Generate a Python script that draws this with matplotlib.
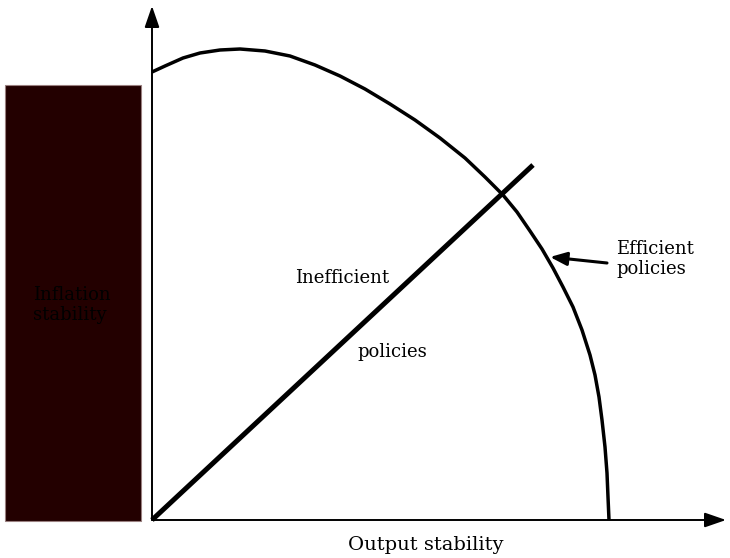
import matplotlib.pyplot as plt
from matplotlib.patches import Rectangle

# frontier (pixel positions in the original)
frontier_px = [152, 165, 183, 200, 220, 240, 265, 290, 315, 340, 365, 390, 415, 440,
               465, 485, 503, 517, 530, 542, 553, 563, 573, 582, 590, 595, 599, 602,
               605, 607, 608, 609]
frontier_py = [72, 66, 58, 53, 50, 49, 51, 56, 65, 76, 89, 104, 120, 138,
               158, 177, 195, 212, 231, 249, 268, 287, 307, 330, 355, 375, 397, 420,
               447, 473, 497, 520]

# ray of inefficient policies
ray_px = [152, 533]
ray_py = [520, 165]

x_label = "Output stability"
y_label = "Inflation\nstability"

W, H = 730, 558
ox, oy = 152, 520
frontier_x = [p - ox for p in frontier_px]
frontier_y = [oy - p for p in frontier_py]
ray_x = [p - ox for p in ray_px]
ray_y = [oy - p for p in ray_py]

fig = plt.figure(figsize=(W / 100, H / 100), dpi=100)
fig.patch.set_facecolor("white")

ax = fig.add_axes([ox / W, (H - oy) / H, (726 - ox) / W, (oy - 6) / H])
ax.set_xlim(0, 726 - ox)
ax.set_ylim(0, oy - 6)
ax.axis("off")

# axes with arrows
arr = dict(arrowstyle="-|>,head_length=1.3,head_width=0.45", color="black", lw=1.4,
           shrinkA=0, shrinkB=0)
ax.annotate("", xy=(0, 1), xytext=(0, 0), xycoords="axes fraction", arrowprops=arr)
ax.annotate("", xy=(1, 0), xytext=(0, 0), xycoords="axes fraction", arrowprops=arr)

ax.plot(frontier_x, frontier_y, color="black", lw=2.5, solid_capstyle="butt",
        solid_joinstyle="round", clip_on=False)
ax.plot(ray_x, ray_y, color="black", lw=3.6, solid_capstyle="butt", clip_on=False)

font = "DejaVu Serif"
fs = 13
ax.text(342 - ox, oy - 278, "Inefficient", ha="center", va="center", fontsize=fs, family=font)
ax.text(392 - ox, oy - 352, "policies", ha="center", va="center", fontsize=fs, family=font)
ax.text(616 - ox, oy - 259, "Efficient\npolicies", ha="left", va="center", fontsize=fs,
        family=font, linespacing=1.2)
ax.annotate("", xy=(550 - ox, oy - 257), xytext=(607 - ox, oy - 263),
            arrowprops=dict(arrowstyle="-|>,head_length=1.0,head_width=0.4",
                            color="black", lw=2.2, shrinkA=0, shrinkB=0))

# dark box on the left holding the y label
fig.add_artist(Rectangle((5 / W, (H - 521) / H), 136 / W, 436 / H,
                         transform=fig.transFigure, facecolor="#230000",
                         edgecolor="#9a8080", lw=0.8))
fig.text(33 / W, 1 - 305 / H, y_label, ha="left", va="center", fontsize=fs,
         family=font, color="black", linespacing=1.2)

fig.text(348 / W, 1 - 545 / H, x_label, ha="left", va="center", fontsize=14,
         family=font)

fig.savefig("out.png", dpi=100)
